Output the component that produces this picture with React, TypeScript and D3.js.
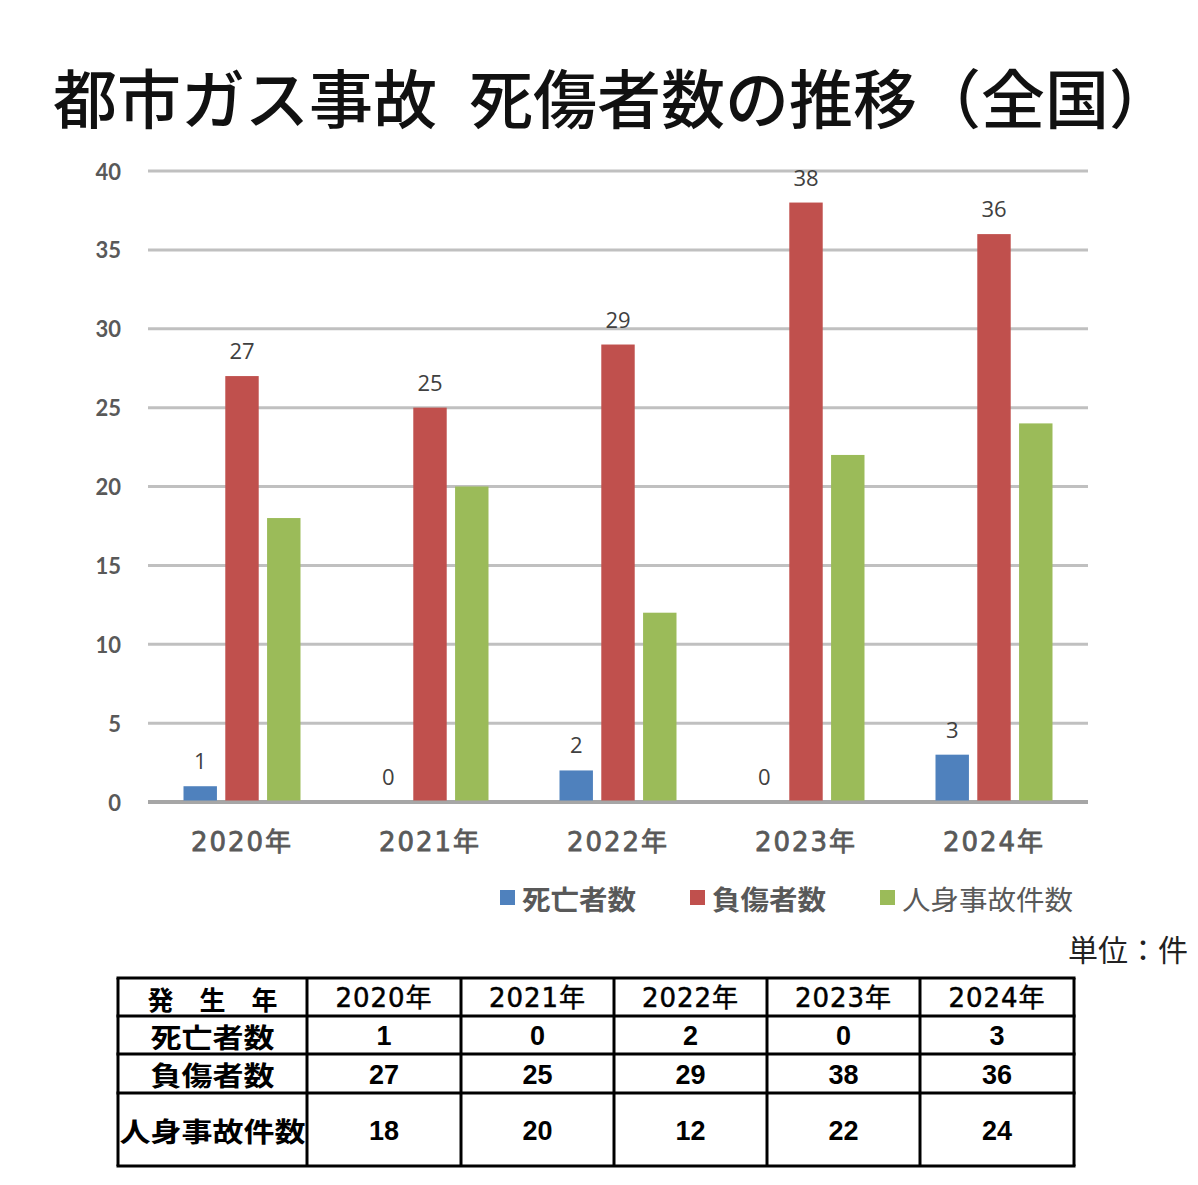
import { useRef, useEffect } from "react";
import * as d3 from "d3";

const years = ["2020年", "2021年", "2022年", "2023年", "2024年"];
const seriesNames = ["死亡者数", "負傷者数", "人身事故件数"];
const deaths = [1, 0, 2, 0, 3];
const injuries = [27, 25, 29, 38, 36];
const accidents = [18, 20, 12, 22, 24];
const yTicks = [0, 5, 10, 15, 20, 25, 30, 35, 40];
const tableHeader = "発　生　年";
const titleParts = ["都市ガス事故", "死傷者数の推移（全国）"];

const colors = ["#4f81bd", "#c0504d", "#9bbb59"];
// only deaths and injuries carry data labels in the original
const labelled = [true, true, false];
const W = 1198;
const H = 1185;

export default function App() {
  const svgRef = useRef<SVGSVGElement>(null);

  useEffect(() => {
    if (!svgRef.current) return;
    const svg = d3.select(svgRef.current);
    svg.selectAll("*").remove();

    const values = [deaths, injuries, accidents];
    const cjk = "'Noto Sans CJK JP', sans-serif";
    const num = "'DejaVu Sans', 'Noto Sans CJK JP', sans-serif";

    // Title (two runs, wide gap between them)
    const titleX = [53, 469];
    titleParts.forEach((p, i) => {
      svg
        .append("text")
        .attr("x", titleX[i])
        .attr("y", 123)
        .attr("font-family", cjk)
        .attr("font-size", 64)
        .attr("font-weight", 500)
        .attr("fill", "#111")
        .text(p);
    });

    // Scales
    const plotLeft = 148;
    const plotRight = 1088;
    const y = d3.scaleLinear().domain([0, 40]).range([802, 171]);
    const x0 = d3.scaleBand().domain(years).range([plotLeft, plotRight]).padding(0);
    const groupW = 117;
    const x1 = d3
      .scaleBand()
      .domain(seriesNames)
      .range([0, groupW])
      .paddingInner(0.2)
      .paddingOuter(0);

    // Gridlines + y ticks
    for (const t of yTicks) {
      svg
        .append("line")
        .attr("x1", plotLeft)
        .attr("x2", plotRight)
        .attr("y1", y(t))
        .attr("y2", y(t))
        .attr("stroke", t === 0 ? "#a6a6a6" : "#c0c0c0")
        .attr("stroke-width", t === 0 ? 4 : 3);
      svg
        .append("text")
        .attr("x", 121)
        .attr("y", y(t))
        .attr("text-anchor", "end")
        .attr("dominant-baseline", "central")
        .attr("font-family", "Lato, 'Open Sans', sans-serif")
        .attr("font-weight", 700)
        .attr("font-size", 22)
        .attr("fill", "#595959")
        .text(t);
    }

    // Bars
    years.forEach((yr, i) => {
      const gx = x0(yr)! + (x0.bandwidth() - groupW) / 2;
      seriesNames.forEach((s, j) => {
        const v = values[j][i];
        const bx = gx + x1(s)!;
        if (v > 0) {
          svg
            .append("rect")
            .attr("x", bx)
            .attr("y", y(v))
            .attr("width", x1.bandwidth())
            .attr("height", y(0) - y(v) - 1.5)
            .attr("fill", colors[j]);
        }
        if (labelled[j]) {
          svg
            .append("text")
            .attr("x", bx + x1.bandwidth() / 2)
            .attr("y", y(v) - 17)
            .attr("text-anchor", "middle")
            .attr("font-family", "'Open Sans', sans-serif")
            .attr("font-size", 22)
            .attr("fill", "#404040")
            .text(v);
        }
      });
      svg
        .append("text")
        .attr("x", x0(yr)! + x0.bandwidth() / 2)
        .attr("y", 851)
        .attr("text-anchor", "middle")
        .attr("font-family", num)
        .attr("font-size", 26)
        .attr("letter-spacing", 2)
        .attr("fill", "#595959")
        .attr("stroke", "#595959")
        .attr("stroke-width", 0.8)
        .text(yr);
    });

    // Legend
    const legendX = [500, 690, 880];
    seriesNames.forEach((s, j) => {
      svg
        .append("rect")
        .attr("x", legendX[j])
        .attr("y", 890)
        .attr("width", 15)
        .attr("height", 15)
        .attr("fill", colors[j]);
      svg
        .append("text")
        .attr("x", legendX[j] + 22)
        .attr("y", 898)
        .attr("dominant-baseline", "central")
        .attr("font-family", cjk)
        .attr("font-size", 27)
        .attr("font-weight", j < 2 ? 700 : 400)
        .attr("fill", "#595959")
        .attr("textLength", s.length * 28.5)
        .attr("lengthAdjust", "spacingAndGlyphs")
        .text(s);
    });

    // Unit
    svg
      .append("text")
      .attr("x", 1188)
      .attr("y", 948)
      .attr("text-anchor", "end")
      .attr("dominant-baseline", "central")
      .attr("font-family", cjk)
      .attr("font-size", 30)
      .attr("fill", "#222")
      .text("単位：件");

    // Table
    const colX = [118, 307, 461, 614, 767, 920, 1074];
    const rowY = [978, 1016, 1054, 1093, 1166];
    const t = svg.append("g");
    const rows: (string | number)[][] = [
      [tableHeader, ...years],
      [seriesNames[0], ...deaths],
      [seriesNames[1], ...injuries],
      [seriesNames[2], ...accidents],
    ];
    rows.forEach((row, r) => {
      const cy = (rowY[r] + rowY[r + 1]) / 2;
      row.forEach((cell, c) => {
        const cx = (colX[c] + colX[c + 1]) / 2;
        const isLabel = c === 0;
        const isHeaderYear = r === 0 && c > 0;
        const txt = t
          .append("text")
          .attr("x", cx)
          .attr("y", cy + 1)
          .attr("text-anchor", "middle")
          .attr("dominant-baseline", "central")
          .attr(
            "font-family",
            isHeaderYear ? num : isLabel ? cjk : "'Liberation Sans', Arial, sans-serif"
          )
          .attr("font-size", isLabel ? (r === 0 ? 26 : 27) : isHeaderYear ? 26 : 27)
          .attr("font-weight", isHeaderYear ? 400 : 700)
          .attr("letter-spacing", isHeaderYear ? 1 : 0)
          .attr("stroke", isHeaderYear ? "#000" : "none")
          .attr("stroke-width", isHeaderYear ? 0.5 : 0)
          .attr("fill", "#000")
          .text(cell);
        if (isLabel && r > 0) {
          // row labels are wide and short in the original
          txt
            .attr("textLength", String(cell).length * 31)
            .attr("lengthAdjust", "spacingAndGlyphs");
        }
      });
    });
    for (const cx of colX) {
      t.append("line")
        .attr("x1", cx)
        .attr("x2", cx)
        .attr("y1", rowY[0])
        .attr("y2", rowY[rowY.length - 1])
        .attr("stroke", "#000")
        .attr("stroke-width", 3);
    }
    for (const ry of rowY) {
      t.append("line")
        .attr("x1", colX[0] - 1.5)
        .attr("x2", colX[colX.length - 1] + 1.5)
        .attr("y1", ry)
        .attr("y2", ry)
        .attr("stroke", "#000")
        .attr("stroke-width", 3);
    }
  }, []);

  return (
    <svg
      ref={svgRef}
      width={W}
      height={H}
      viewBox={`0 0 ${W} ${H}`}
      style={{ position: "absolute", left: 0, top: 0, background: "#fff" }}
    />
  );
}
